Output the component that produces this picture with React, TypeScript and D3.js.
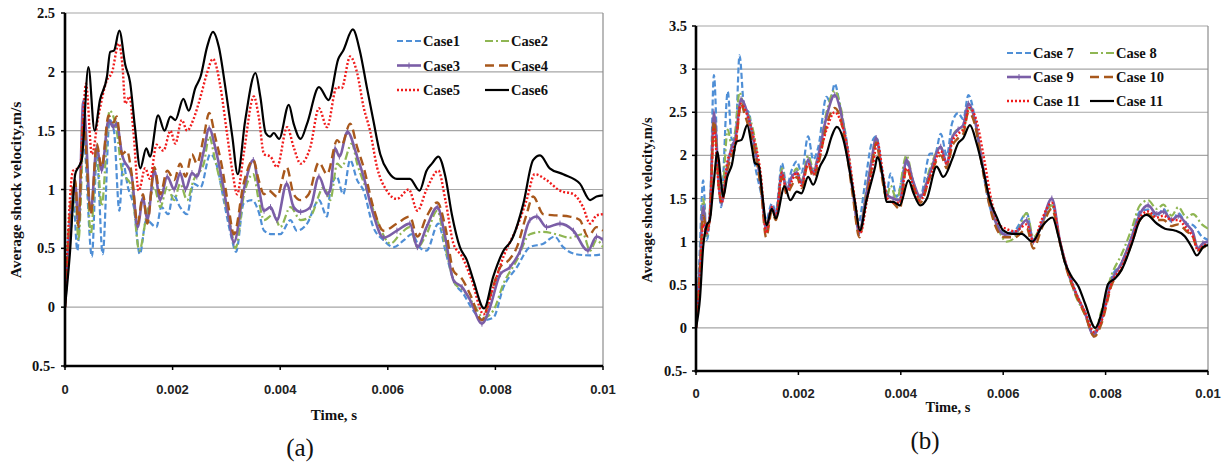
import React from "react";
import * as d3 from "d3";

// time in ms, value in m/s
const case1: [number, number][] = [[0,0],[0.15,0.96],[0.23,0.48],[0.34,1.45],[0.5,0.43],[0.59,1.28],[0.7,0.45],[0.83,1.59],[0.91,1.5],[1.01,0.82],[1.08,1.22],[1.17,1.02],[1.28,0.85],[1.39,0.45],[1.51,0.74],[1.7,0.68],[1.79,0.85],[1.92,0.79],[2.01,0.96],[2.14,0.85],[2.27,0.79],[2.39,1.05],[2.52,1.02],[2.7,1.3],[2.83,1.19],[2.95,0.91],[3.08,0.62],[3.18,0.47],[3.32,0.88],[3.48,0.91],[3.6,0.81],[3.7,0.65],[3.85,0.62],[4.0,0.62],[4.19,0.74],[4.31,0.65],[4.5,0.71],[4.72,0.91],[4.87,0.77],[4.93,0.99],[5.05,1.11],[5.17,0.96],[5.3,1.25],[5.43,1.08],[5.55,0.99],[5.73,0.68],[5.92,0.57],[6.11,0.51],[6.3,0.57],[6.45,0.62],[6.59,0.51],[6.72,0.48],[6.94,0.71],[7.07,0.48],[7.22,0.23],[7.41,0.11],[7.59,-0.03],[7.78,-0.11],[7.96,-0.09],[8.15,0.17],[8.4,0.34],[8.64,0.51],[8.89,0.54],[9.1,0.6],[9.26,0.51],[9.5,0.45],[9.76,0.44],[10,0.45]];
const case2: [number, number][] = [[0,0],[0.12,0.7],[0.19,0.95],[0.25,0.57],[0.36,1.55],[0.48,0.62],[0.59,1.33],[0.68,0.86],[0.83,1.67],[0.96,1.5],[1.06,1.16],[1.24,1.02],[1.38,0.48],[1.52,0.79],[1.66,1.02],[1.77,0.85],[1.9,1.02],[2.03,0.91],[2.14,1.05],[2.27,0.91],[2.39,1.08],[2.58,1.22],[2.68,1.45],[2.79,1.25],[2.95,0.94],[3.08,0.68],[3.17,0.5],[3.32,0.94],[3.5,1.13],[3.6,0.91],[3.7,0.74],[3.88,0.79],[4.0,0.68],[4.19,0.85],[4.38,0.74],[4.56,0.77],[4.81,1.02],[4.93,0.91],[5.06,1.22],[5.14,1.19],[5.33,1.39],[5.43,1.22],[5.61,0.99],[5.8,0.74],[6.05,0.54],[6.23,0.62],[6.41,0.68],[6.55,0.51],[6.72,0.62],[6.92,0.82],[7.07,0.51],[7.25,0.2],[7.41,0.14],[7.59,0.03],[7.78,-0.09],[7.96,-0.03],[8.15,0.2],[8.4,0.4],[8.64,0.62],[8.89,0.64],[9.13,0.62],[9.38,0.59],[9.63,0.62],[9.76,0.48],[9.88,0.57],[10,0.51]];
const case3: [number, number][] = [[0,0],[0.12,0.8],[0.19,1.05],[0.25,0.7],[0.34,1.75],[0.48,0.82],[0.59,1.36],[0.68,1.16],[0.81,1.59],[0.9,1.53],[0.96,1.56],[1.06,1.3],[1.24,1.11],[1.35,0.68],[1.45,0.93],[1.53,0.74],[1.66,1.16],[1.77,0.91],[1.9,1.11],[2.03,1.0],[2.14,1.14],[2.24,1.0],[2.36,1.14],[2.45,1.11],[2.58,1.33],[2.68,1.52],[2.79,1.36],[2.92,1.08],[3.04,0.77],[3.14,0.55],[3.32,0.99],[3.5,1.25],[3.6,1.02],[3.7,0.82],[3.82,0.85],[3.94,0.74],[4.12,1.05],[4.25,0.85],[4.38,0.81],[4.56,0.85],[4.72,1.11],[4.87,0.96],[4.93,1.0],[5.02,1.35],[5.1,1.28],[5.25,1.49],[5.43,1.28],[5.55,1.11],[5.73,0.79],[5.92,0.59],[6.17,0.65],[6.41,0.71],[6.55,0.51],[6.72,0.68],[6.92,0.85],[7.07,0.59],[7.22,0.23],[7.38,0.17],[7.53,0.06],[7.75,-0.14],[7.9,0],[8.09,0.28],[8.27,0.34],[8.46,0.48],[8.64,0.74],[8.77,0.77],[8.95,0.68],[9.2,0.71],[9.45,0.65],[9.72,0.48],[9.88,0.6],[10,0.57]];
const case4: [number, number][] = [[0,0],[0.1,0.85],[0.19,1.08],[0.25,0.68],[0.34,1.59],[0.48,0.79],[0.59,1.39],[0.68,1.19],[0.81,1.63],[0.9,1.57],[0.96,1.62],[1.06,1.3],[1.15,1.33],[1.24,1.13],[1.35,0.71],[1.45,0.96],[1.53,0.71],[1.66,1.19],[1.77,0.96],[1.9,1.16],[2.03,1.08],[2.14,1.22],[2.24,1.11],[2.36,1.3],[2.45,1.22],[2.58,1.45],[2.68,1.65],[2.79,1.45],[2.92,1.19],[3.04,0.85],[3.14,0.62],[3.32,1.05],[3.5,1.25],[3.6,1.08],[3.7,0.96],[3.79,0.99],[3.94,0.94],[4.12,1.19],[4.25,0.96],[4.38,0.91],[4.53,0.96],[4.72,1.23],[4.87,1.13],[5.06,1.42],[5.14,1.38],[5.3,1.56],[5.43,1.36],[5.55,1.19],[5.73,0.85],[5.92,0.65],[6.17,0.71],[6.41,0.77],[6.55,0.6],[6.72,0.77],[6.92,0.89],[7.07,0.68],[7.22,0.31],[7.38,0.24],[7.53,0.11],[7.75,-0.11],[7.9,0.09],[8.09,0.34],[8.25,0.4],[8.4,0.51],[8.58,0.79],[8.7,0.94],[8.89,0.79],[9.13,0.78],[9.38,0.77],[9.57,0.74],[9.72,0.6],[9.88,0.68],[10,0.65]];
const case5: [number, number][] = [[0,0],[0.15,1.16],[0.28,1.19],[0.39,1.9],[0.5,1.3],[0.62,1.62],[0.78,1.93],[0.87,1.99],[1.0,2.24],[1.07,2.04],[1.12,1.73],[1.2,1.79],[1.27,1.5],[1.37,0.99],[1.49,1.18],[1.58,1.09],[1.7,1.38],[1.83,1.33],[1.96,1.5],[2.05,1.39],[2.17,1.59],[2.27,1.5],[2.39,1.6],[2.52,1.79],[2.64,1.99],[2.75,2.11],[2.89,1.87],[3.01,1.48],[3.11,1.16],[3.2,0.96],[3.32,1.3],[3.51,1.79],[3.6,1.62],[3.7,1.3],[3.82,1.28],[3.94,1.19],[4.13,1.53],[4.25,1.36],[4.38,1.22],[4.56,1.36],[4.72,1.69],[4.87,1.53],[5.05,1.87],[5.14,1.86],[5.3,2.13],[5.43,1.99],[5.55,1.7],[5.67,1.5],[5.8,1.19],[5.98,0.99],[6.17,0.92],[6.39,1.0],[6.55,0.82],[6.72,1.0],[6.94,1.16],[7.07,0.91],[7.22,0.54],[7.38,0.43],[7.56,0.23],[7.78,-0.06],[7.96,0.17],[8.15,0.43],[8.4,0.68],[8.58,0.91],[8.73,1.13],[8.95,1.08],[9.2,0.99],[9.45,0.96],[9.63,0.85],[9.76,0.71],[9.88,0.78],[10,0.79]];
const case6: [number, number][] = [[0,0],[0.09,0.45],[0.19,1.13],[0.25,1.19],[0.31,1.25],[0.435,2.04],[0.55,1.5],[0.65,1.76],[0.78,1.96],[0.84,2.17],[0.91,2.18],[1.01,2.35],[1.12,2.06],[1.21,1.91],[1.3,1.53],[1.4,1.18],[1.51,1.35],[1.58,1.28],[1.73,1.63],[1.85,1.5],[1.96,1.62],[2.05,1.59],[2.2,1.77],[2.3,1.67],[2.42,1.86],[2.52,1.96],[2.64,2.21],[2.75,2.34],[2.86,2.21],[2.98,1.87],[3.11,1.45],[3.21,1.13],[3.35,1.59],[3.54,1.99],[3.63,1.79],[3.73,1.48],[3.81,1.45],[3.88,1.48],[3.98,1.43],[4.16,1.72],[4.25,1.56],[4.38,1.43],[4.5,1.56],[4.72,1.87],[4.9,1.76],[5.08,2.11],[5.17,2.18],[5.35,2.36],[5.48,2.18],[5.61,1.87],[5.73,1.59],[5.86,1.3],[6.01,1.15],[6.17,1.09],[6.41,1.09],[6.59,0.99],[6.72,1.16],[6.82,1.22],[6.94,1.28],[7.07,1.11],[7.19,0.79],[7.34,0.51],[7.47,0.4],[7.59,0.23],[7.79,-0.01],[7.96,0.26],[8.15,0.48],[8.3,0.57],[8.52,0.88],[8.7,1.25],[8.83,1.29],[9.01,1.18],[9.26,1.13],[9.57,1.05],[9.76,0.91],[9.88,0.94],[10,0.95]];

const case7: [number, number][] = [[0,0],[0.06,0.7],[0.14,1.71],[0.21,1.02],[0.27,1.3],[0.35,2.93],[0.43,1.83],[0.49,1.4],[0.62,2.74],[0.7,2.18],[0.77,2.2],[0.85,3.16],[0.94,2.56],[1.04,2.49],[1.13,1.98],[1.27,1.56],[1.37,1.25],[1.48,1.44],[1.56,1.36],[1.68,1.91],[1.77,1.64],[1.87,1.83],[1.97,1.93],[2.06,1.8],[2.19,2.22],[2.29,1.95],[2.39,2.1],[2.55,2.68],[2.62,2.62],[2.71,2.83],[2.81,2.58],[2.94,2.18],[3.07,1.6],[3.17,1.21],[3.3,1.67],[3.43,2.14],[3.52,2.22],[3.63,1.86],[3.72,1.55],[3.8,1.79],[3.92,1.52],[4.11,1.91],[4.24,1.68],[4.38,1.52],[4.57,2.02],[4.67,2.02],[4.78,2.25],[4.9,2.0],[5.0,2.37],[5.12,2.49],[5.22,2.42],[5.32,2.7],[5.45,2.42],[5.58,1.91],[5.74,1.4],[5.87,1.21],[6.03,1.09],[6.23,1.13],[6.46,1.33],[6.59,1.02],[6.75,1.21],[6.95,1.44],[7.11,0.98],[7.27,0.63],[7.41,0.4],[7.6,0.17],[7.76,-0.05],[7.92,0.09],[8.12,0.59],[8.31,0.75],[8.51,1.06],[8.67,1.35],[8.83,1.37],[9.0,1.29],[9.13,1.38],[9.29,1.23],[9.42,1.33],[9.58,1.21],[9.71,1.19],[9.88,1.06],[10,1.02]];
const case8: [number, number][] = [[0,0],[0.08,0.8],[0.14,1.5],[0.21,1.05],[0.27,1.35],[0.35,2.4],[0.45,1.75],[0.5,1.5],[0.62,2.3],[0.7,2.1],[0.77,2.3],[0.85,2.73],[0.94,2.55],[1.04,2.45],[1.13,2.25],[1.27,1.7],[1.37,1.15],[1.48,1.4],[1.56,1.3],[1.68,1.85],[1.77,1.6],[1.87,1.75],[1.97,1.85],[2.06,1.7],[2.19,2.0],[2.29,1.85],[2.39,2.0],[2.55,2.5],[2.71,2.75],[2.81,2.6],[2.94,2.15],[3.07,1.6],[3.19,1.1],[3.3,1.5],[3.43,1.95],[3.52,2.2],[3.63,1.8],[3.72,1.5],[3.8,1.65],[3.92,1.48],[4.11,2.0],[4.24,1.7],[4.38,1.5],[4.57,1.85],[4.78,2.1],[4.9,1.9],[5.0,2.2],[5.12,2.3],[5.22,2.3],[5.32,2.55],[5.45,2.4],[5.58,1.95],[5.74,1.45],[5.87,1.2],[6.07,1.0],[6.23,1.05],[6.46,1.33],[6.59,1.05],[6.75,1.2],[6.95,1.42],[7.11,0.98],[7.27,0.63],[7.41,0.38],[7.6,0.15],[7.76,-0.07],[7.92,0.2],[8.12,0.62],[8.31,0.85],[8.51,1.15],[8.67,1.42],[8.83,1.48],[9.0,1.38],[9.13,1.43],[9.29,1.3],[9.42,1.4],[9.58,1.28],[9.71,1.32],[9.88,1.2],[10,1.15]];
const case9: [number, number][] = [[0,0],[0.08,0.75],[0.14,1.4],[0.21,1.1],[0.27,1.3],[0.35,2.5],[0.45,1.65],[0.5,1.45],[0.62,1.9],[0.7,2.1],[0.77,2.2],[0.88,2.65],[0.94,2.6],[1.04,2.4],[1.13,2.15],[1.27,1.65],[1.37,1.15],[1.48,1.4],[1.56,1.3],[1.68,1.8],[1.77,1.6],[1.87,1.75],[1.97,1.8],[2.06,1.68],[2.19,1.95],[2.29,1.8],[2.39,2.0],[2.55,2.45],[2.71,2.7],[2.81,2.55],[2.94,2.1],[3.07,1.55],[3.19,1.1],[3.3,1.45],[3.43,1.95],[3.52,2.2],[3.63,1.8],[3.72,1.55],[3.85,1.5],[3.98,1.48],[4.11,1.95],[4.24,1.7],[4.38,1.52],[4.57,1.8],[4.78,2.1],[4.9,1.9],[5.0,2.2],[5.12,2.3],[5.22,2.35],[5.32,2.6],[5.45,2.4],[5.58,1.95],[5.74,1.45],[5.87,1.2],[6.03,1.08],[6.23,1.1],[6.46,1.25],[6.59,1.0],[6.75,1.2],[6.95,1.5],[7.11,1.0],[7.27,0.65],[7.41,0.42],[7.6,0.17],[7.76,-0.08],[7.92,0.1],[8.12,0.55],[8.31,0.75],[8.51,1.05],[8.67,1.32],[8.83,1.42],[9.0,1.32],[9.13,1.35],[9.29,1.25],[9.42,1.3],[9.58,1.2],[9.71,1.1],[9.8,0.92],[9.9,0.98],[10,1.0]];
const case10: [number, number][] = [[0,0],[0.08,0.7],[0.14,1.3],[0.21,1.15],[0.27,1.25],[0.35,2.4],[0.45,1.6],[0.5,1.45],[0.62,1.85],[0.7,2.0],[0.77,2.1],[0.88,2.6],[0.94,2.5],[1.04,2.3],[1.13,2.1],[1.27,1.6],[1.37,1.05],[1.48,1.35],[1.56,1.25],[1.68,1.75],[1.77,1.55],[1.87,1.65],[1.97,1.75],[2.06,1.62],[2.19,1.9],[2.29,1.75],[2.39,1.9],[2.55,2.35],[2.71,2.55],[2.81,2.45],[2.94,2.05],[3.07,1.5],[3.19,1.05],[3.3,1.4],[3.43,1.85],[3.52,2.15],[3.63,1.75],[3.72,1.5],[3.85,1.45],[3.98,1.38],[4.11,1.85],[4.24,1.65],[4.38,1.45],[4.57,1.75],[4.78,2.0],[4.9,1.85],[5.0,2.1],[5.12,2.2],[5.22,2.25],[5.32,2.5],[5.45,2.35],[5.58,1.9],[5.74,1.4],[5.87,1.15],[6.03,1.05],[6.23,1.05],[6.46,1.15],[6.59,0.92],[6.75,1.15],[6.95,1.38],[7.11,0.98],[7.27,0.62],[7.41,0.4],[7.6,0.15],[7.78,-0.1],[7.92,0.05],[8.12,0.5],[8.31,0.68],[8.51,0.98],[8.67,1.25],[8.83,1.32],[9.0,1.25],[9.13,1.25],[9.29,1.18],[9.42,1.2],[9.58,1.12],[9.71,1.05],[9.8,0.9],[9.9,0.93],[10,0.95]];
const case11: [number, number][] = [[0,0],[0.08,0.6],[0.14,1.2],[0.21,1.1],[0.27,1.3],[0.35,2.3],[0.45,1.6],[0.5,1.45],[0.62,1.95],[0.7,2.05],[0.77,2.15],[0.88,2.6],[0.94,2.55],[1.04,2.4],[1.13,2.2],[1.27,1.75],[1.37,1.1],[1.48,1.4],[1.56,1.28],[1.68,1.8],[1.77,1.58],[1.87,1.7],[1.97,1.8],[2.06,1.65],[2.19,1.9],[2.29,1.78],[2.39,1.95],[2.55,2.3],[2.71,2.5],[2.81,2.42],[2.97,2.05],[3.1,1.5],[3.21,1.1],[3.33,1.45],[3.46,1.9],[3.54,2.15],[3.66,1.75],[3.74,1.5],[3.85,1.45],[3.98,1.45],[4.11,1.85],[4.24,1.65],[4.38,1.48],[4.57,1.75],[4.78,2.05],[4.9,1.9],[5.0,2.15],[5.12,2.25],[5.22,2.3],[5.34,2.55],[5.48,2.4],[5.63,1.95],[5.78,1.45],[5.92,1.2],[6.05,1.15],[6.23,1.12],[6.46,1.2],[6.59,1.0],[6.75,1.25],[6.95,1.45],[7.11,1.0],[7.27,0.65],[7.41,0.42],[7.6,0.18],[7.78,-0.05],[7.92,0.08],[8.12,0.52],[8.31,0.7],[8.51,1.0],[8.67,1.28],[8.83,1.35],[9.0,1.28],[9.13,1.3],[9.29,1.25],[9.42,1.25],[9.58,1.15],[9.71,1.05],[9.8,0.9],[9.9,0.95],[10,0.97]];
const case11b: [number, number][] = [[0,0],[0.08,0.36],[0.14,0.94],[0.21,1.19],[0.27,1.25],[0.34,1.64],[0.42,2.04],[0.48,1.75],[0.53,1.52],[0.61,1.75],[0.7,1.89],[0.79,2.16],[0.89,2.18],[1.0,2.35],[1.09,2.1],[1.15,1.91],[1.22,1.89],[1.3,1.52],[1.38,1.19],[1.48,1.38],[1.56,1.27],[1.73,1.64],[1.84,1.48],[1.97,1.58],[2.06,1.56],[2.19,1.75],[2.29,1.66],[2.42,1.87],[2.55,2.02],[2.65,2.22],[2.75,2.33],[2.88,2.18],[3.01,1.79],[3.11,1.44],[3.2,1.13],[3.33,1.48],[3.5,1.87],[3.54,1.98],[3.66,1.71],[3.72,1.46],[3.85,1.46],[3.98,1.42],[4.15,1.71],[4.25,1.56],[4.38,1.42],[4.51,1.5],[4.7,1.87],[4.83,1.75],[5.0,1.95],[5.12,2.14],[5.22,2.2],[5.35,2.35],[5.48,2.14],[5.61,1.83],[5.74,1.48],[5.87,1.29],[6.0,1.13],[6.17,1.09],[6.36,1.09],[6.57,1.0],[6.75,1.17],[6.96,1.28],[7.08,1.06],[7.21,0.75],[7.34,0.59],[7.47,0.48],[7.6,0.28],[7.8,0.0],[7.92,0.17],[8.05,0.51],[8.18,0.57],[8.31,0.67],[8.51,0.97],[8.67,1.25],[8.8,1.31],[9.0,1.21],[9.16,1.15],[9.35,1.13],[9.55,1.06],[9.68,0.94],[9.78,0.84],[9.91,0.94],[10,0.96]];

const xTicks = [0, 0.002, 0.004, 0.006, 0.008, 0.01];
const yTicksA = [-0.5, 0, 0.5, 1, 1.5, 2, 2.5];
const yTicksB = [-0.5, 0, 0.5, 1, 1.5, 2, 2.5, 3, 3.5];
const namesA = ["Case1", "Case2", "Case3", "Case4", "Case5", "Case6"];
const namesB = ["Case 7", "Case 8", "Case 9", "Case 10", "Case 11", "Case 11"];

// line styles shared by both panels (same order)
const styles = [
  { color: "#4f8fd6", dash: "6,3", width: 2.2 },
  { color: "#8fb653", dash: "8,3,2,3", width: 2.2 },
  { color: "#7b5ea7", dash: "", width: 2.6, marker: true },
  { color: "#a8581c", dash: "9,5", width: 2.4 },
  { color: "#f01c1c", dash: "2,2", width: 2.4 },
  { color: "#000000", dash: "", width: 2.2 },
];

const serif = "'Liberation Serif', 'Times New Roman', serif";
const sans = "'Liberation Sans', Arial, sans-serif";

type PanelProps = {
  series: [number, number][][];
  names: string[];
  yTicks: number[];
  box: { x0: number; x1: number; y0: number; y1: number };
  legend: { x1: number; x2: number; y: number; dy: number; len1: number; len2: number };
  yTitle: { x: number; y: number; size: number };
  xTitle: { x: number; y: number; size: number };
  tickLabelX: number;
  tickLabelY: number;
};

function Panel({ series, names, yTicks, box, legend, yTitle, xTitle, tickLabelX, tickLabelY }: PanelProps) {
  const x = d3.scaleLinear().domain([0, 0.01]).range([box.x0, box.x1]);
  const y = d3.scaleLinear().domain([yTicks[0], yTicks[yTicks.length - 1]]).range([box.y1, box.y0]);
  const line = d3
    .line<[number, number]>()
    .x((d) => x(d[0] / 1000))
    .y((d) => y(d[1]))
    .curve(d3.curveMonotoneX);
  const clipId = "clip" + box.x0;

  return (
    <g>
      <defs>
        <clipPath id={clipId}>
          <rect x={box.x0} y={box.y0 - 5} width={box.x1 - box.x0} height={box.y1 - box.y0 + 10} />
        </clipPath>
      </defs>
      {/* grid */}
      {yTicks.slice(1).map((t) => (
        <line key={t} x1={box.x0} x2={box.x1} y1={y(t)} y2={y(t)} stroke="#a6a6a6" strokeWidth={1.2} />
      ))}
      <line x1={box.x1} x2={box.x1} y1={box.y0} y2={box.y1} stroke="#8c8c8c" strokeWidth={1.2} />
      {/* series */}
      <g clipPath={`url(#${clipId})`}>
        {series.map((s, i) => (
          <g key={i}>
            <path
              d={line(s) || ""}
              fill="none"
              stroke={styles[i].color}
              strokeWidth={styles[i].width}
              strokeDasharray={styles[i].dash}
              strokeLinejoin="round"
            />
            {styles[i].marker &&
              s.map((d, j) => (
                <line
                  key={j}
                  x1={x(d[0] / 1000)}
                  x2={x(d[0] / 1000)}
                  y1={y(d[1]) - 3}
                  y2={y(d[1]) + 3}
                  stroke={styles[i].color}
                  strokeWidth={1}
                />
              ))}
          </g>
        ))}
      </g>
      {/* axes */}
      <line x1={box.x0} x2={box.x0} y1={box.y0} y2={box.y1 + 1.5} stroke="#000" strokeWidth={2.6} />
      <line x1={box.x0 - 1.3} x2={box.x1} y1={box.y1} y2={box.y1} stroke="#000" strokeWidth={2.6} />
      {yTicks.map((t) => (
        <g key={t}>
          <line x1={box.x0 - 4} x2={box.x0} y1={y(t)} y2={y(t)} stroke="#000" strokeWidth={1.5} />
          <text
            x={tickLabelX}
            y={y(t) + 5}
            textAnchor="end"
            fontFamily={serif}
            fontWeight="bold"
            fontSize={14.5}
            fill="#111"
          >
            {t < 0 ? `${-t}-` : String(t)}
          </text>
        </g>
      ))}
      {xTicks.map((t) => (
        <g key={t}>
          <line x1={x(t)} x2={x(t)} y1={box.y1} y2={box.y1 + 4} stroke="#000" strokeWidth={1.5} />
          <text
            x={x(t)}
            y={tickLabelY}
            textAnchor="middle"
            fontFamily={sans}
            fontWeight="bold"
            fontSize={13}
            fill="#222"
          >
            {String(t)}
          </text>
        </g>
      ))}
      <text
        x={xTitle.x}
        y={xTitle.y}
        textAnchor="middle"
        fontFamily={serif}
        fontWeight="bold"
        fontSize={xTitle.size}
        fill="#111"
      >
        Time, s
      </text>
      <text
        transform={`translate(${yTitle.x},${yTitle.y}) rotate(-90)`}
        textAnchor="middle"
        fontFamily={serif}
        fontWeight="bold"
        fontSize={yTitle.size}
        fill="#111"
      >
        Average shock velocity,m/s
      </text>
      {/* legend */}
      {names.map((n, i) => {
        const col = i % 2;
        const row = Math.floor(i / 2);
        const lx = col === 0 ? legend.x1 : legend.x2;
        const len = col === 0 ? legend.len1 : legend.len2;
        const ly = legend.y + row * legend.dy;
        return (
          <g key={i}>
            <line
              x1={lx}
              x2={lx + len}
              y1={ly}
              y2={ly}
              stroke={styles[i].color}
              strokeWidth={styles[i].width}
              strokeDasharray={styles[i].dash}
            />
            {styles[i].marker && (
              <line x1={lx + len / 2} x2={lx + len / 2} y1={ly - 3} y2={ly + 3} stroke={styles[i].color} strokeWidth={1} />
            )}
            <text
              x={lx + len + 2}
              y={ly + 5}
              fontFamily={serif}
              fontWeight="bold"
              fontSize={14.5}
              fill="#111"
            >
              {n}
            </text>
          </g>
        );
      })}
    </g>
  );
}

export default function App() {
  return (
    <svg width={1223} height={465} style={{ position: "absolute", left: 0, top: 0, background: "#fff" }}>
      <Panel
        series={[case1, case2, case3, case4, case5, case6]}
        names={namesA}
        yTicks={yTicksA}
        box={{ x0: 65, x1: 603, y0: 13, y1: 366 }}
        legend={{ x1: 397, x2: 485, y: 41, dy: 24.5, len1: 24, len2: 24 }}
        yTitle={{ x: 21, y: 190, size: 15.5 }}
        xTitle={{ x: 334, y: 420, size: 15 }}
        tickLabelX={55}
        tickLabelY={394}
      />
      <Panel
        series={[case7, case8, case9, case10, case11, case11b]}
        names={namesB}
        yTicks={yTicksB}
        box={{ x0: 696, x1: 1208, y0: 26, y1: 371 }}
        legend={{ x1: 1007, x2: 1090, y: 53, dy: 24, len1: 24, len2: 24 }}
        yTitle={{ x: 652, y: 200, size: 14.5 }}
        xTitle={{ x: 948, y: 412, size: 14.5 }}
        tickLabelX={687}
        tickLabelY={398}
      />
      <text x={300} y={456} textAnchor="middle" fontFamily={serif} fontSize={25} fill="#111">
        (a)
      </text>
      <text x={925} y={449} textAnchor="middle" fontFamily={serif} fontSize={25} fill="#111">
        (b)
      </text>
    </svg>
  );
}
